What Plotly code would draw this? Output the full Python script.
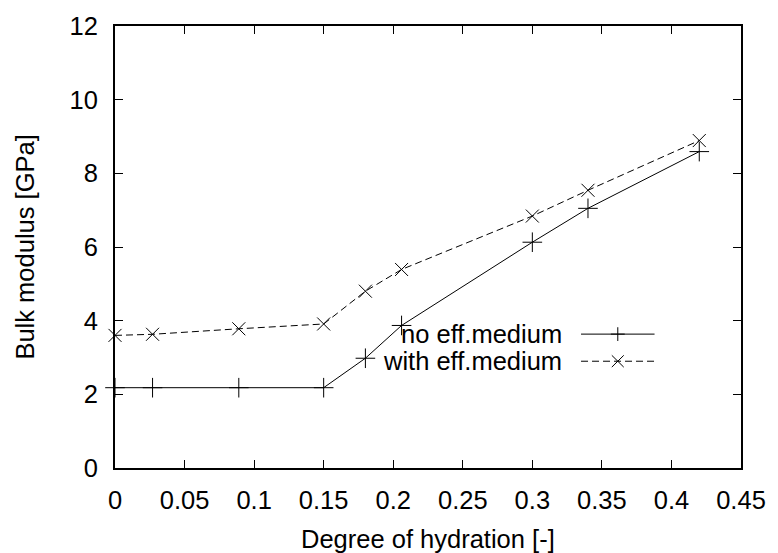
import plotly.graph_objects as go

# Degree of hydration and computed bulk moduli (GPa)
hydration = [0.0, 0.027, 0.089, 0.150, 0.180, 0.206, 0.300, 0.340, 0.420]
k_no_eff = [2.18, 2.18, 2.18, 2.18, 2.98, 3.87, 6.13, 7.05, 8.59]
k_with_eff = [3.60, 3.63, 3.78, 3.91, 4.80, 5.39, 6.84, 7.54, 8.89]

series_names = ["no eff.medium", "with eff.medium"]
x_ticks = [0, 0.05, 0.1, 0.15, 0.2, 0.25, 0.3, 0.35, 0.4, 0.45]
x_tick_text = ["0", "0.05", "0.1", "0.15", "0.2", "0.25", "0.3", "0.35", "0.4", "0.45"]
y_ticks = [0, 2, 4, 6, 8, 10, 12]

FONT = "Liberation Sans, Arial, Helvetica, sans-serif"
FS = 25.5

W, H = 778, 553
ML, MR, MT, MB = 115, 33, 18, 85
PW, PH = W - ML - MR, H - MT - MB

fig = go.Figure()
fig.add_trace(go.Scatter(
    x=hydration, y=k_no_eff, mode="lines+markers", name=series_names[0],
    line=dict(color="black", width=1),
    marker=dict(symbol="cross-thin-open", size=14, line=dict(color="black", width=1)),
    cliponaxis=False,
))
fig.add_trace(go.Scatter(
    x=hydration, y=k_with_eff, mode="lines+markers", name=series_names[1],
    line=dict(color="black", width=1, dash="7px,4px"),
    marker=dict(symbol="x-thin-open", size=13, line=dict(color="black", width=1)),
    cliponaxis=False,
))

axis_common = dict(
    showgrid=False, zeroline=False, showline=True, linecolor="black", linewidth=2,
    mirror="ticks", ticks="inside", ticklen=8, tickwidth=1, tickcolor="black",
    tickfont=dict(family=FONT, size=FS, color="black"),
)
fig.update_xaxes(range=[0, 0.45], tickvals=x_ticks, ticktext=x_tick_text,
                 ticklabelstandoff=8, **axis_common)
fig.update_yaxes(range=[0, 12], tickvals=y_ticks, ticklabelstandoff=10, **axis_common)


def px_x(p):
    return (p - ML) / PW


def px_y(p):
    return (MT + PH - p) / PH


annotations = [
    dict(text="Degree of hydration [-]", x=0.5, y=px_y(540), xref="paper", yref="paper",
         xanchor="center", yanchor="middle", showarrow=False,
         font=dict(family=FONT, size=FS, color="black")),
    dict(text="Bulk modulus [GPa]", x=px_x(24), y=px_y(243), xref="paper", yref="paper",
         xanchor="center", yanchor="middle", textangle=-90, showarrow=False,
         font=dict(family=FONT, size=FS, color="black")),
]

# key: text right-aligned, line sample with its marker to the right
rows = [331.7, 359.3]
shapes = []
for name, row, dash, sym in zip(series_names, rows, ["solid", "7px,4px"], ["+", "x"]):
    annotations.append(dict(text=name, x=px_x(567), y=px_y(row), xref="paper", yref="paper",
                            xanchor="right", yanchor="middle", showarrow=False,
                            font=dict(family=FONT, size=FS, color="black")))
    shapes.append(dict(type="line", xref="paper", yref="paper",
                       x0=px_x(584), x1=px_x(658), y0=px_y(row), y1=px_y(row),
                       line=dict(color="black", width=1, dash=dash)))
    cx, cy, r = 621, row, 7 if sym == "+" else 6
    if sym == "+":
        segs = [(cx - r, cy, cx + r, cy), (cx, cy - r, cx, cy + r)]
    else:
        segs = [(cx - r, cy - r, cx + r, cy + r), (cx - r, cy + r, cx + r, cy - r)]
    for x0, y0, x1, y1 in segs:
        shapes.append(dict(type="line", xref="paper", yref="paper",
                           x0=px_x(x0), x1=px_x(x1), y0=px_y(y0), y1=px_y(y1),
                           line=dict(color="black", width=1)))

fig.update_layout(
    width=W, height=H, margin=dict(l=ML, r=MR, t=MT, b=MB),
    paper_bgcolor="white", plot_bgcolor="white", showlegend=False,
    annotations=annotations, shapes=shapes,
    font=dict(family=FONT, size=FS, color="black"),
)

fig.write_html("out.html")
